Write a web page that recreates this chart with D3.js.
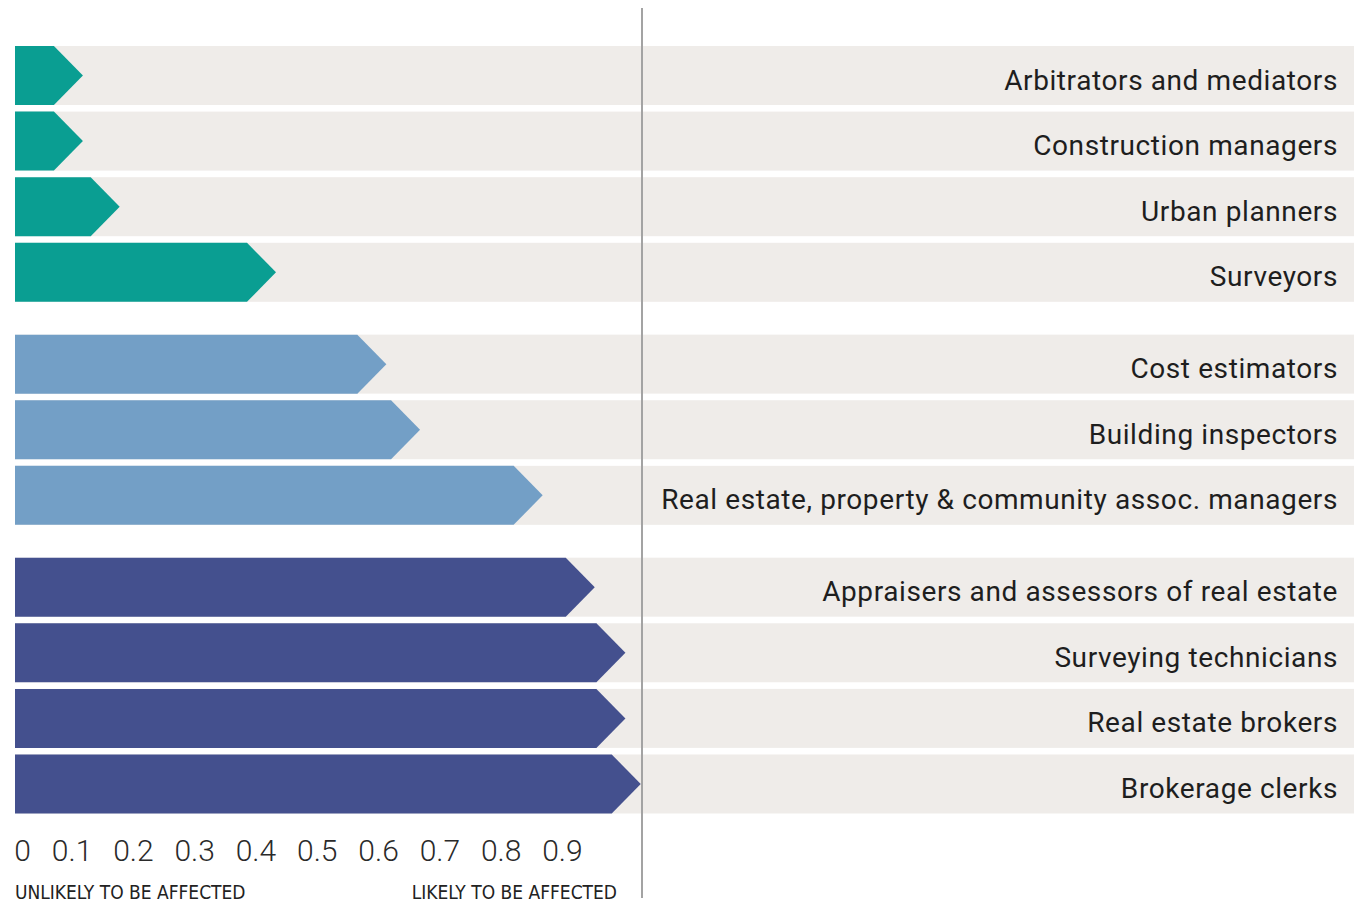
<!DOCTYPE html>
<meta charset="utf-8">
<style>
body { margin: 0; background: #fff; }
.occ { font-family: "Roboto", sans-serif; font-size: 28px; letter-spacing: 0.6px; fill: #1e1e1e; }
.tick-label { font-family: "Roboto", sans-serif; font-size: 30px; fill: #2a2a2a; font-weight: 300; }
.end-label { font-family: "DejaVu Sans Condensed", sans-serif; font-size: 19px; fill: #222; }
</style>
<body>
<script src="https://cdn.jsdelivr.net/npm/d3@7"></script>
<script>

// occupations, top to bottom
var occupations = [
  "Arbitrators and mediators",
  "Construction managers",
  "Urban planners",
  "Surveyors",
  "Cost estimators",
  "Building inspectors",
  "Real estate, property & community assoc. managers",
  "Appraisers and assessors of real estate",
  "Surveying technicians",
  "Real estate brokers",
  "Brokerage clerks"
];
// probability of being affected
var probabilities = [0.07, 0.07, 0.13, 0.385, 0.565, 0.62, 0.82, 0.905, 0.955, 0.955, 0.98];
// which group each row belongs to
var groups = [0, 0, 0, 0, 1, 1, 1, 2, 2, 2, 2];
var tickValues = [0, 0.1, 0.2, 0.3, 0.4, 0.5, 0.6, 0.7, 0.8, 0.9];
var groupColors = ["#0a9e92", "#739fc6", "#44508e"];

var width = 1354, height = 902;

var svg = d3.select("body").append("svg")
  .attr("width", width)
  .attr("height", height);

// x scale: value -> arrow tip position
var x = d3.scaleLinear().domain([0, 1]).range([40, 653]);
var barStart = 15, headLen = 29;

// rows: index plus a gap per group
var rowPitch = 65.6, rowH = 59;
var y = d3.scaleLinear().domain([0, 1]).range([46, 46 + rowPitch]);
function rowY(i) { return y(i + groups[i] * 0.4); }

var data = occupations.map(function (d, i) {
  return {name: d, value: probabilities[i], group: groups[i], i: i};
});

// background bands
svg.selectAll(".band")
  .data(data)
  .enter().append("rect")
  .attr("class", "band")
  .attr("x", barStart)
  .attr("y", function (d) { return rowY(d.i); })
  .attr("width", width - barStart)
  .attr("height", rowH)
  .attr("fill", "#efece9");

// arrows
svg.selectAll(".arrow")
  .data(data)
  .enter().append("path")
  .attr("class", "arrow")
  .attr("fill", function (d) { return groupColors[d.group]; })
  .attr("d", function (d) {
    var y0 = rowY(d.i), y1 = y0 + rowH, tip = x(d.value);
    return "M" + barStart + "," + y0 +
      "L" + (tip - headLen) + "," + y0 +
      "L" + tip + "," + (y0 + rowH / 2) +
      "L" + (tip - headLen) + "," + y1 +
      "L" + barStart + "," + y1 + "Z";
  });

// labels
svg.selectAll(".occ")
  .data(data)
  .enter().append("text")
  .attr("class", "occ")
  .attr("x", 1338)
  .attr("y", function (d) { return rowY(d.i) + rowH / 2 + 14; })
  .attr("text-anchor", "end")
  .text(function (d) { return d.name; });

// vertical reference line
svg.append("line")
  .attr("x1", 642).attr("x2", 642)
  .attr("y1", 8).attr("y2", 898)
  .attr("stroke", "#a3a3a3")
  .attr("stroke-width", 2);

// tick labels
svg.selectAll(".tick-label")
  .data(tickValues)
  .enter().append("text")
  .attr("class", "tick-label")
  .attr("x", function (d) { return x(d) - 9; })
  .attr("y", 861)
  .attr("text-anchor", "end")
  .text(function (d) { return d === 0 ? "0" : d3.format(".1f")(d); });

svg.append("text")
  .attr("class", "end-label")
  .attr("x", 15).attr("y", 899)
  .text("UNLIKELY TO BE AFFECTED");

svg.append("text")
  .attr("class", "end-label")
  .attr("x", 617).attr("y", 899)
  .attr("text-anchor", "end")
  .text("LIKELY TO BE AFFECTED");

</script>
</body>
